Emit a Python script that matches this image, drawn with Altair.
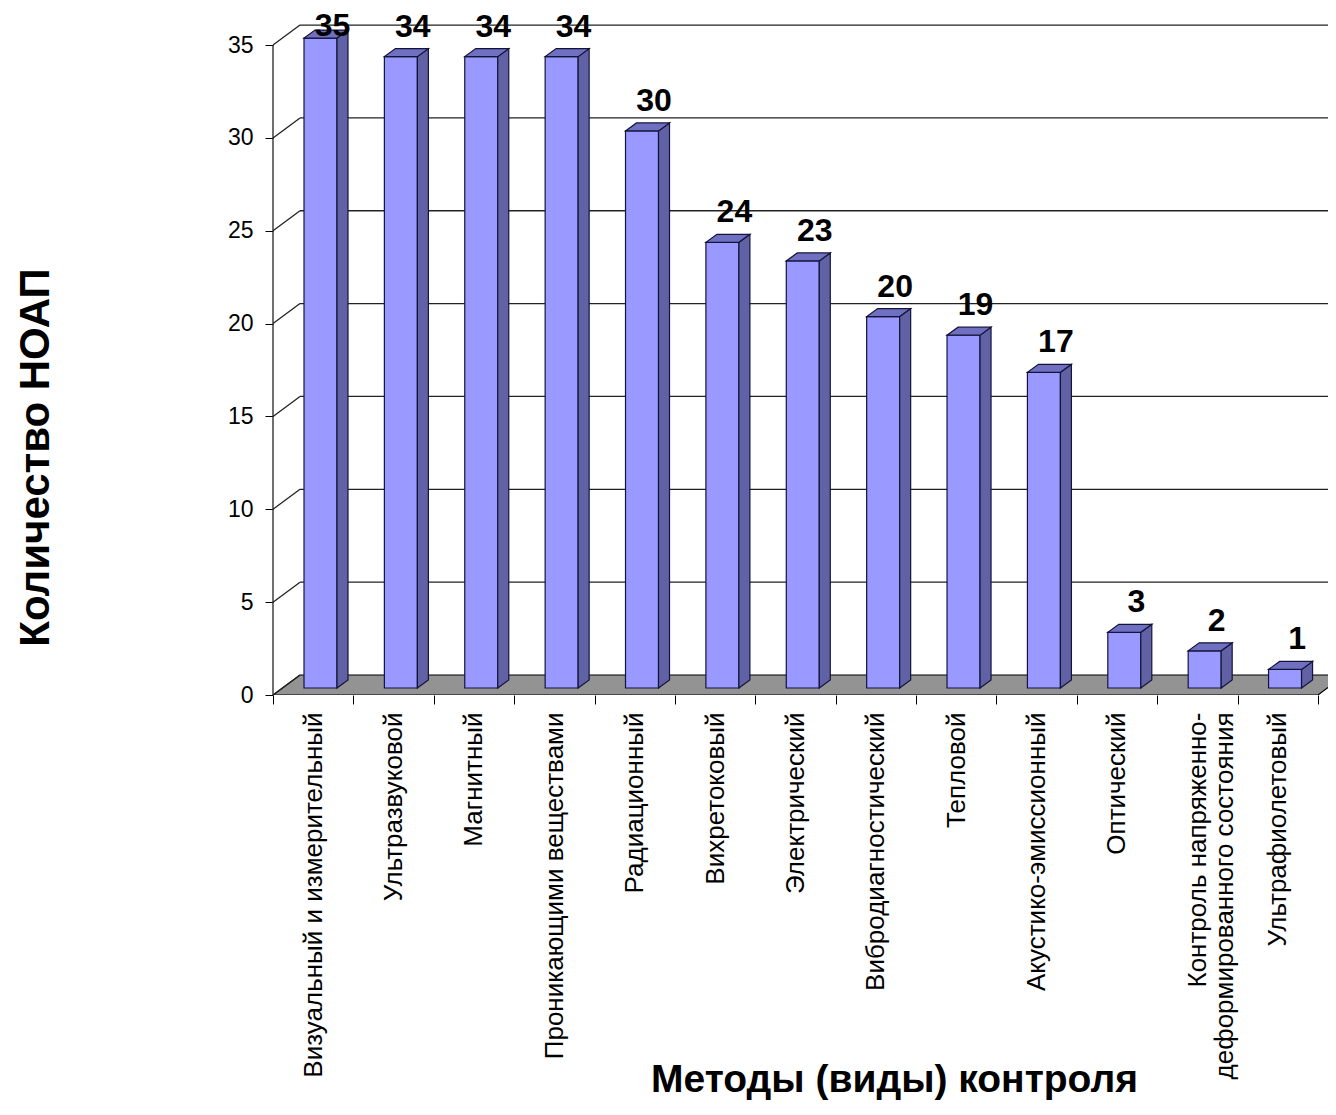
import json
import altair as alt
import pandas as pd

# ---- data ----
categories = [
    "Визуальный и измерительный",
    "Ультразвуковой",
    "Магнитный",
    "Проникающими веществами",
    "Радиационный",
    "Вихретоковый",
    "Электрический",
    "Вибродиагностический",
    "Тепловой",
    "Акустико-эмиссионный",
    "Оптический",
    "Контроль напряженно-\nдеформированного состояния",
    "Ультрафиолетовый",
]
values = [35, 34, 34, 34, 30, 24, 23, 20, 19, 17, 3, 2, 1]
y_ticks = [0, 5, 10, 15, 20, 25, 30, 35]
x_title = "Методы (виды) контроля"
y_title = "Количество НОАП"

# ---- geometry (pseudo 3D) ----
BAND_PX = 80.38
UNIT_PX = 18.57
W = 1055
H = 687
XMAX = W / BAND_PX
YMAX = H / UNIT_PX
WALL_DX = 27 / BAND_PX
WALL_DY = 20 / UNIT_PX
BAR_X0 = 31 / BAND_PX
BAR_W = 33 / BAND_PX
BAR_DX = 11 / BAND_PX
BAR_DY = 8 / UNIT_PX
BAR_LIFT = 7 / UNIT_PX
LABEL_DY = 20 / UNIT_PX
LABEL_CAP = 659 / UNIT_PX
LABEL_X = 0.74
n = len(categories)

front, side, top, labels = [], [], [], []
for i, v in enumerate(values):
    x0 = i + BAR_X0
    x1 = x0 + BAR_W
    t = v + BAR_LIFT
    front.append({"x0": x0, "x1": x1, "y0": BAR_LIFT, "y1": t})
    side.append({"bar": i, "x": x1, "lo": BAR_LIFT, "hi": t})
    side.append({"bar": i, "x": x1 + BAR_DX, "lo": BAR_LIFT + BAR_DY, "hi": t + BAR_DY})
    top.append({"bar": i, "x": x0, "lo": t, "hi": t})
    top.append({"bar": i, "x": x0 + BAR_DX, "lo": t, "hi": t + BAR_DY})
    top.append({"bar": i, "x": x1, "lo": t, "hi": t + BAR_DY})
    top.append({"bar": i, "x": x1 + BAR_DX, "lo": t + BAR_DY, "hi": t + BAR_DY})
    labels.append({"x": i + LABEL_X, "y": min(t + LABEL_DY, LABEL_CAP), "txt": str(v)})

floor = pd.DataFrame([
    {"x": 0, "lo": 0, "hi": 0},
    {"x": WALL_DX, "lo": 0, "hi": WALL_DY},
    {"x": n, "lo": 0, "hi": WALL_DY},
    {"x": n + WALL_DX, "lo": WALL_DY, "hi": WALL_DY},
])
diag = pd.DataFrame([{"x0": 0, "x1": WALL_DX, "y0": v, "y1": v + WALL_DY} for v in y_ticks])
grid = pd.DataFrame([{"x0": WALL_DX, "x1": XMAX, "y": v + WALL_DY} for v in y_ticks[1:]])
axis_line = pd.DataFrame([{"x": 0, "y0": 0, "y1": max(y_ticks)}])

xs = alt.Scale(domain=[0, XMAX], nice=False, zero=False)
ys = alt.Scale(domain=[0, YMAX], nice=False, zero=False)

FONT = "Liberation Sans"
label_lines = [c.split("\n") if "\n" in c else c for c in categories]
label_expr = json.dumps(label_lines, ensure_ascii=False) + "[datum.value] || ''"

x_axis = alt.Axis(
    values=list(range(n + 1)), labelExpr=label_expr, labelOffset=BAND_PX / 2,
    labelAngle=270, labelAlign="right", labelBaseline="middle", labelPadding=8,
    tickSize=9, tickColor="black", tickWidth=1, domain=False, grid=False,
    labelFontSize=26, labelFont=FONT, labelColor="black", labelLimit=0,
    labelOverlap=False, labelFlush=False, labelLineHeight=27,
    title=x_title, titleFontSize=39, titleFont=FONT, titleFontWeight="bold",
    titleColor="black", titleX=621, titleY=396, titleAlign="center",
    titleBaseline="alphabetic",
)
y_axis = alt.Axis(
    values=y_ticks, tickSize=8, tickColor="black", tickWidth=1, domain=False,
    grid=False, labelFontSize=23, labelFont=FONT, labelColor="black",
    labelPadding=12,
    title=y_title, titleFontSize=42, titleFont=FONT, titleFontWeight="bold",
    titleColor="black", titleAngle=270, titleX=-238, titleY=449,
    titleAlign="center", titleBaseline="middle",
)


def X(f):
    return alt.X(f, scale=xs, axis=x_axis, title=x_title)


def Y(f):
    return alt.Y(f, scale=ys, axis=y_axis, title=y_title)


floor_l = alt.Chart(floor).mark_area(
    orient="vertical", color="#939393", stroke="black", strokeWidth=1.2, clip=True
).encode(x=X("x:Q"), y=Y("lo:Q"), y2="hi:Q")

diag_l = alt.Chart(diag).mark_rule(color="#222222", strokeWidth=1.3).encode(
    x=X("x0:Q"), x2="x1:Q", y=Y("y0:Q"), y2="y1:Q",
)
grid_l = alt.Chart(grid).mark_rule(color="#222222", strokeWidth=1.3, clip=True).encode(
    x=X("x0:Q"), x2="x1:Q", y=Y("y:Q"),
)
axis_l = alt.Chart(axis_line).mark_rule(color="#222222", strokeWidth=1.3).encode(
    x=X("x:Q"), y=Y("y0:Q"), y2="y1:Q",
)
front_l = alt.Chart(pd.DataFrame(front)).mark_rect(
    color="#9999FF", stroke="#14143a", strokeWidth=1.2
).encode(x=X("x0:Q"), x2="x1:Q", y=Y("y0:Q"), y2="y1:Q")
side_l = alt.Chart(pd.DataFrame(side)).mark_area(
    orient="vertical", color="#6161A6", stroke="#14143a", strokeWidth=1.2
).encode(x=X("x:Q"), y=Y("lo:Q"), y2="hi:Q", detail="bar:N")
top_l = alt.Chart(pd.DataFrame(top)).mark_area(
    orient="vertical", color="#7070C2", stroke="#14143a", strokeWidth=1.2
).encode(x=X("x:Q"), y=Y("lo:Q"), y2="hi:Q", detail="bar:N")
text_l = alt.Chart(pd.DataFrame(labels)).mark_text(
    font=FONT, fontSize=32, fontWeight="bold", color="black",
    align="center", baseline="alphabetic"
).encode(x=X("x:Q"), y=Y("y:Q"), text="txt:N")

chart = alt.layer(
    floor_l, diag_l, grid_l, axis_l, front_l, side_l, top_l, text_l
).properties(
    width=W, height=H,
    padding={"left": 265, "top": 0, "right": 0, "bottom": 405},
    autosize="none",
    background="white",
).configure_view(stroke=None)

chart.save("out.html", embed_options={"renderer": "svg", "actions": False})
